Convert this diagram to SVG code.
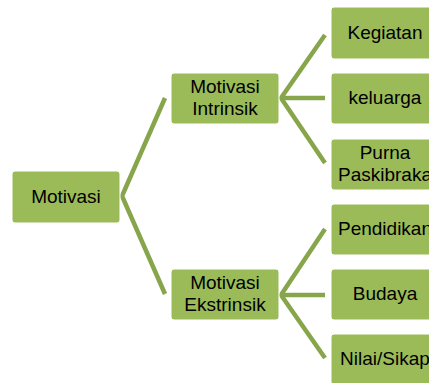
<svg xmlns="http://www.w3.org/2000/svg" width="429" height="383" viewBox="0 0 429 383">
<style>
.box{fill:#9bbb59;stroke:#ffffff;stroke-width:1}
.lbl{font-family:"Liberation Sans",Arial,sans-serif;font-size:19px;fill:#000000;text-anchor:middle}
.con{fill:none;stroke:#87a64c;stroke-width:4.5;stroke-linejoin:miter}
</style>
<rect width="429" height="383" fill="#ffffff"/>
<g id="connectors">
<polyline class="con" points="165,98 122,196 165,294"/>
<polyline class="con" points="325,35 281,98 325,163"/>
<line class="con" x1="281" y1="98" x2="325" y2="98"/>
<polyline class="con" points="325,229 281,295 325,358"/>
<line class="con" x1="281" y1="295" x2="325" y2="295"/>
</g>
<g id="n-motivasi">
<rect class="box" x="12" y="171" width="108" height="52" rx="3"/>
<text class="lbl" x="66" y="203">Motivasi</text>
</g>
<g id="n-intrinsik">
<rect class="box" x="171" y="73" width="108" height="51" rx="3"/>
<text class="lbl" x="225" y="93">Motivasi</text>
<text class="lbl" x="225" y="115">Intrinsik</text>
</g>
<g id="n-ekstrinsik">
<rect class="box" x="171" y="269" width="108" height="51" rx="3"/>
<text class="lbl" x="225" y="289">Motivasi</text>
<text class="lbl" x="225" y="311">Ekstrinsik</text>
</g>
<g id="n-kegiatan">
<rect class="box" x="331" y="7" width="108" height="52" rx="3"/>
<text class="lbl" x="385" y="39">Kegiatan</text>
</g>
<g id="n-keluarga">
<rect class="box" x="331" y="73" width="108" height="51" rx="3"/>
<text class="lbl" x="385" y="104">keluarga</text>
</g>
<g id="n-purna">
<rect class="box" x="331" y="139" width="108" height="51" rx="3"/>
<text class="lbl" x="385" y="159">Purna</text>
<text class="lbl" x="385" y="181">Paskibraka</text>
</g>
<g id="n-pendidikan">
<rect class="box" x="331" y="204" width="108" height="51" rx="3"/>
<text class="lbl" x="385" y="235">Pendidikan</text>
</g>
<g id="n-budaya">
<rect class="box" x="331" y="269" width="108" height="51" rx="3"/>
<text class="lbl" x="385" y="300">Budaya</text>
</g>
<g id="n-nilai">
<rect class="box" x="331" y="334" width="108" height="51" rx="3"/>
<text class="lbl" x="385" y="365">Nilai/Sikap</text>
</g>
</svg>
